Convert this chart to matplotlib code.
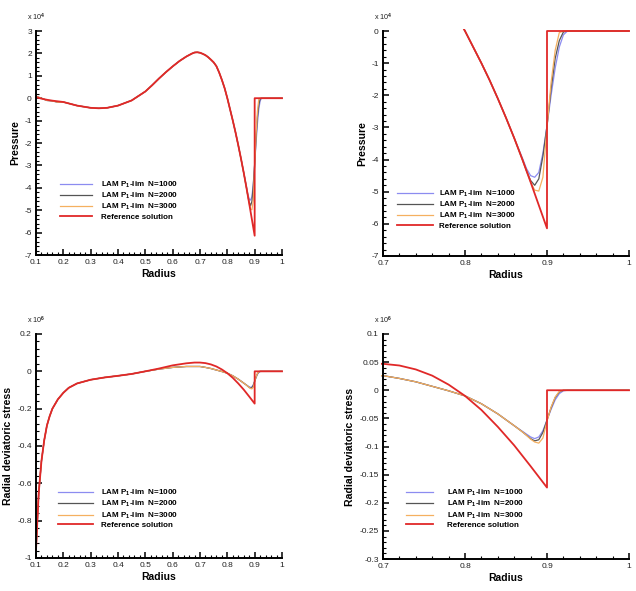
import matplotlib
matplotlib.use("Agg")
import matplotlib.pyplot as plt
from matplotlib.ticker import MultipleLocator, AutoMinorLocator, FuncFormatter
from matplotlib.transforms import Bbox, TransformedBbox
from matplotlib.font_manager import FontProperties

plt.rcParams['font.family'] = ['Liberation Sans', 'DejaVu Sans']
plt.rcParams['mathtext.fontset'] = 'custom'
plt.rcParams['mathtext.rm'] = 'Liberation Sans:bold'
plt.rcParams['mathtext.it'] = 'Liberation Sans:bold'
plt.rcParams['mathtext.bf'] = 'Liberation Sans:bold'

# ---------------- data: pressure (x 10^4) ----------------
r_ref_p = [0.1, 0.12, 0.14, 0.16, 0.18, 0.2, 0.25, 0.3, 0.33, 0.36, 0.4, 0.45, 0.5, 0.525, 0.55, 0.575,
           0.6, 0.625, 0.65, 0.67, 0.68, 0.69, 0.7, 0.71, 0.72, 0.73, 0.74, 0.75, 0.76, 0.77, 0.78, 0.79, 0.8,
           0.81, 0.82, 0.83, 0.84, 0.85, 0.86, 0.87, 0.88, 0.89, 0.9, 0.9, 1.0]
p_ref = [0.05, -0.02, -0.07, -0.11, -0.14, -0.17, -0.33, -0.43, -0.45, -0.43, -0.33, -0.1, 0.3, 0.58, 0.88, 1.16,
         1.42, 1.66, 1.86, 1.99, 2.04, 2.05, 2.03, 1.98, 1.92, 1.83, 1.72, 1.6, 1.43, 1.15, 0.82, 0.45, 0.0,
         -0.5, -1.0, -1.53, -2.1, -2.7, -3.33, -4.0, -4.7, -5.42, -6.14, 0.0, 0.0]

r_num_p = [0.1, 0.12, 0.14, 0.16, 0.18, 0.2, 0.25, 0.3, 0.33, 0.36, 0.4, 0.45, 0.5, 0.525, 0.55, 0.575,
           0.6, 0.625, 0.65, 0.67, 0.68, 0.69, 0.7, 0.71, 0.72, 0.73, 0.74, 0.75, 0.76, 0.77, 0.78, 0.79, 0.8,
           0.81, 0.82, 0.83, 0.84, 0.85, 0.86, 0.87, 0.875, 0.88, 0.885, 0.89, 0.895,
           0.9, 0.905, 0.91, 0.915, 0.92, 0.925, 0.93, 1.0]
p_common = [0.08, 0.0, -0.1, -0.12, -0.18, -0.17, -0.33, -0.43, -0.45, -0.43, -0.33, -0.1, 0.3, 0.58, 0.88, 1.16,
            1.42, 1.66, 1.86, 1.99, 2.04, 2.05, 2.03, 1.98, 1.92, 1.83, 1.72, 1.6, 1.43, 1.15, 0.82, 0.45, 0.0,
            -0.5, -1.0, -1.53, -2.1, -2.7, -3.33]
p_n1000 = p_common + [-3.95, -4.28, -4.5, -4.55, -4.4, -3.8, -2.95, -2.0, -1.15, -0.5, -0.12, 0.0, 0.0, 0.0]
p_n2000 = p_common + [-4.0, -4.35, -4.65, -4.8, -4.6, -3.9, -2.95, -1.8, -0.85, -0.3, -0.03, 0.0, 0.0, 0.0]
p_n3000 = p_common + [-4.0, -4.35, -4.7, -4.95, -4.98, -4.55, -3.0, -1.6, -0.6, -0.05, 0.0, 0.0, 0.0, 0.0]

# ---------------- data: radial deviatoric stress (x 10^6) ----------------
r_ref_s = [0.1, 0.105, 0.11, 0.12, 0.13, 0.14, 0.15, 0.16, 0.18, 0.2, 0.22, 0.25, 0.3, 0.35,
           0.4, 0.45, 0.5, 0.55, 0.6, 0.65, 0.68, 0.7, 0.72, 0.74, 0.76, 0.78, 0.8,
           0.82, 0.84, 0.86, 0.88, 0.9, 0.9, 1.0]
s_ref = [-0.96, -0.8, -0.65, -0.48, -0.37, -0.29, -0.24, -0.2, -0.15, -0.115, -0.088, -0.065, -0.045, -0.033,
         -0.024, -0.014, 0.0, 0.015, 0.032, 0.043, 0.047, 0.047, 0.044, 0.037, 0.026, 0.01, -0.01,
         -0.035, -0.065, -0.098, -0.135, -0.173, 0.0, 0.0]

r_num_s = [0.1, 0.105, 0.11, 0.12, 0.13, 0.14, 0.15, 0.16, 0.18, 0.2, 0.22, 0.25, 0.3, 0.35,
           0.4, 0.45, 0.5, 0.55, 0.6, 0.65, 0.7, 0.72, 0.74, 0.76, 0.78, 0.8, 0.82, 0.84, 0.86,
           0.87, 0.875, 0.88, 0.885, 0.89, 0.895, 0.9, 0.905, 0.91, 0.915, 0.92, 0.925, 1.0]
s_common = [-0.96, -0.8, -0.65, -0.48, -0.37, -0.29, -0.24, -0.2, -0.15, -0.115, -0.088, -0.065, -0.045, -0.033,
            -0.024, -0.014, 0.0, 0.012, 0.021, 0.026, 0.026, 0.021, 0.015, 0.007, -0.001, -0.01, -0.024,
            -0.042, -0.063]
s_n1000 = s_common + [-0.073, -0.078, -0.083, -0.086, -0.083, -0.072, -0.053, -0.034, -0.017, -0.006, -0.001, 0.0, 0.0]
s_n2000 = s_common + [-0.074, -0.08, -0.086, -0.09, -0.088, -0.075, -0.053, -0.031, -0.013, -0.003, 0.0, 0.0, 0.0]
s_n3000 = s_common + [-0.074, -0.08, -0.087, -0.092, -0.094, -0.085, -0.055, -0.03, -0.012, -0.002, 0.0, 0.0, 0.0]

labels = ["LAM P$_1$-lim  N=1000", "LAM P$_1$-lim  N=2000", "LAM P$_1$-lim  N=3000", "Reference solution"]
colors = ["#8c8cf0", "#555555", "#f5b060", "#e02828"]

W, H = 636, 591
fig = plt.figure(figsize=(W / 100, H / 100), dpi=100)


def px_axes(x0, y0, x1, y1):
    return fig.add_axes([x0 / W, 1 - y1 / H, (x1 - x0) / W, (y1 - y0) / H])


fmt = FuncFormatter(lambda v, p: ('%g' % round(v, 6)))


def style(ax, xlim, ylim, xmaj, ymaj, ylabel, mult_text, legend_xy, hlen, hpad):
    ax.set_xlim(*xlim)
    ax.set_ylim(*ylim)
    for s in ['top', 'right']:
        ax.spines[s].set_visible(False)
    for s in ['left', 'bottom']:
        ax.spines[s].set_linewidth(1.4)
    ax.xaxis.set_major_locator(MultipleLocator(xmaj))
    ax.yaxis.set_major_locator(MultipleLocator(ymaj))
    ax.xaxis.set_minor_locator(AutoMinorLocator(5))
    ax.yaxis.set_minor_locator(AutoMinorLocator(5))
    ax.xaxis.set_major_formatter(fmt)
    ax.yaxis.set_major_formatter(fmt)
    ax.tick_params(which='major', direction='in', length=4.5, width=1.1, labelsize=6, pad=3,
                   colors='black', labelcolor='#222222')
    ax.tick_params(which='minor', direction='in', length=2.2, width=0.8)
    ax.set_xlabel('Radius', fontsize=7.5, fontweight='bold', labelpad=2)
    ax.set_ylabel(ylabel, fontsize=7.6, fontweight='bold', labelpad=3)
    ax.text(-0.035, 1.062, mult_text, transform=ax.transAxes, fontsize=5.2, ha='left', va='center',
            color='#222222')
    lines = ax.get_lines()
    fp = FontProperties(family='Liberation Sans', weight='bold', size=5.8)
    ax.legend(lines, labels, loc='upper left', bbox_to_anchor=(legend_xy[0] / W, 1 - legend_xy[1] / H),
              bbox_transform=fig.transFigure, frameon=False, borderpad=0, borderaxespad=0,
              handlelength=hlen, handletextpad=hpad, labelspacing=0.12, prop=fp)
    bb = TransformedBbox(Bbox([[-0.01, -0.01], [1.01, 1.01]]), ax.transAxes)
    for ln in lines:
        ln.set_clip_box(bb)


def draw(ax, rn, n1, n2, n3, rr, ref):
    ax.plot(rn, n1, color=colors[0], lw=0.9)
    ax.plot(rn, n2, color=colors[1], lw=0.9)
    ax.plot(rn, n3, color=colors[2], lw=0.9)
    ax.plot(rr, ref, color=colors[3], lw=1.3)


ax1 = px_axes(36, 31, 282, 255)
draw(ax1, r_num_p, p_n1000, p_n2000, p_n3000, r_ref_p, p_ref)
style(ax1, (0.1, 1.0), (-7, 3), 0.1, 1, 'Pressure', 'x 10$^4$', (60, 179.5), 4.0, 1.1)

ax2 = px_axes(383, 31, 629, 256)
draw(ax2, r_num_p, p_n1000, p_n2000, p_n3000, r_ref_p, p_ref)
style(ax2, (0.7, 1.0), (-7, 0), 0.1, 1, 'Pressure', 'x 10$^4$', (397, 188.5), 4.5, 0.75)

ax3 = px_axes(36, 334, 282, 558)
draw(ax3, r_num_s, s_n1000, s_n2000, s_n3000, r_ref_s, s_ref)
style(ax3, (0.1, 1.0), (-1, 0.2), 0.1, 0.2, 'Radial deviatoric stress', 'x 10$^6$', (58, 488), 4.35, 1.0)

ax4 = px_axes(383, 334, 629, 559)
draw(ax4, r_num_s, s_n1000, s_n2000, s_n3000, r_ref_s, s_ref)
style(ax4, (0.7, 1.0), (-0.3, 0.1), 0.1, 0.05, 'Radial deviatoric stress', 'x 10$^6$', (406, 488), 3.35, 1.75)

fig.savefig('out.png', dpi=100, facecolor='white')
